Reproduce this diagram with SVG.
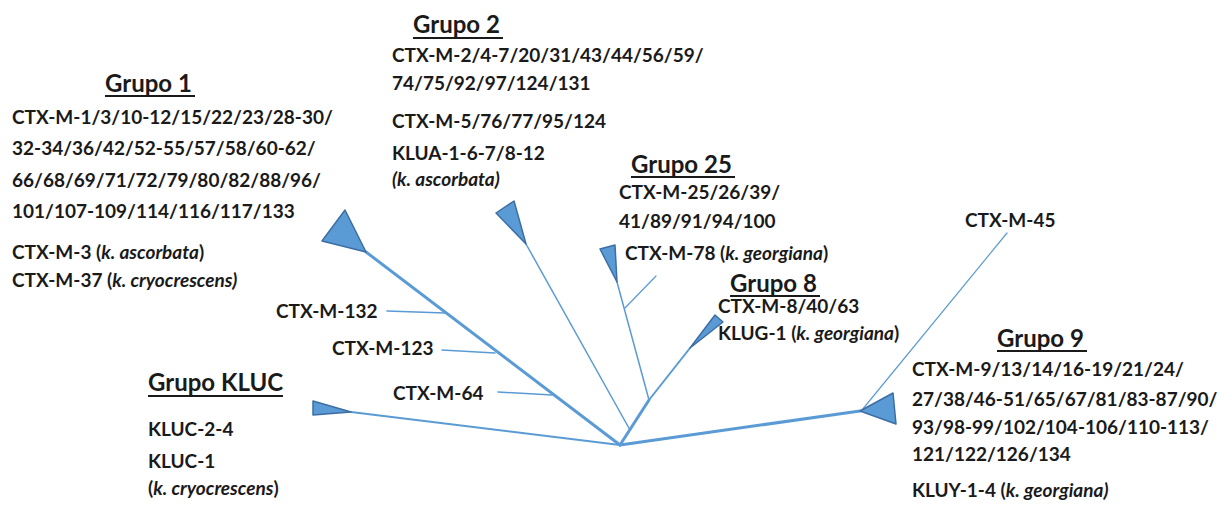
<svg xmlns="http://www.w3.org/2000/svg" width="1222" height="507" viewBox="0 0 1222 507">
<style>
text{font-family:Lato,"Open Sans","Liberation Sans",sans-serif;font-weight:bold;fill:#1a1a1a;font-size:19px}
.h{font-size:24px}
.i{font-style:italic}
.ul{stroke:#1a1a1a;stroke-width:2}
.tri{fill:#5b9bd5;stroke:#3c6ea5;stroke-width:1.5;stroke-linejoin:round}
.br{stroke:#5b9bd5;fill:none;stroke-linecap:round}
.w3{stroke-width:3}
.w2{stroke-width:2}
.w15{stroke-width:1.5}
.w12{stroke-width:1.2}
</style>
<rect width="1222" height="507" fill="#ffffff"/>
<g id="connectors">
<line class="br w3" x1="620" y1="445" x2="366" y2="252"/>
<line class="br w15" x1="387" y1="311" x2="445" y2="313"/>
<line class="br w15" x1="442" y1="350" x2="495" y2="353"/>
<line class="br w15" x1="498" y1="392" x2="552" y2="395"/>
<line class="br w2" x1="620" y1="445" x2="351" y2="412"/>
<line class="br w3" x1="620" y1="445" x2="649" y2="400"/>
<line class="br w15" x1="630" y1="430" x2="526" y2="244"/>
<line class="br w15" x1="649" y1="400" x2="617" y2="282"/>
<line class="br w12" x1="625" y1="308" x2="656" y2="276"/>
<line class="br w2" x1="649" y1="400" x2="690" y2="348"/>
<line class="br w3" x1="620" y1="445" x2="860" y2="411"/>
<line class="br w12" x1="862" y1="410" x2="1007" y2="233"/>
</g>
<g id="grupo1">
<polygon class="tri" points="345,210 322,241 366,252"/>
<text class="h" x="105" y="92">Grupo 1</text>
<line class="ul" x1="105" y1="96" x2="195" y2="96"/>
<text x="12" y="124">CTX-M-1/3/10-12/15/22/23/28-30/</text>
<text x="12" y="155">32-34/36/42/52-55/57/58/60-62/</text>
<text x="12" y="187">66/68/69/71/72/79/80/82/88/96/</text>
<text x="12" y="218">101/107-109/114/116/117/133</text>
<text x="12" y="259">CTX-M-3 (<tspan class="i">k. ascorbata</tspan>)</text>
<text x="12" y="287">CTX-M-37 (<tspan class="i">k. cryocrescens)</tspan></text>
</g>
<g id="ctxm132"><text x="276" y="318">CTX-M-132</text></g>
<g id="ctxm123"><text x="332" y="355">CTX-M-123</text></g>
<g id="ctxm64"><text x="393" y="400">CTX-M-64</text></g>
<g id="grupo2">
<polygon class="tri" points="496,213 514,201 526,244"/>
<text class="h" x="413" y="33">Grupo 2</text>
<line class="ul" x1="413" y1="38" x2="503" y2="38"/>
<text x="392" y="62">CTX-M-2/4-7/20/31/43/44/56/59/</text>
<text x="392" y="90">74/75/92/97/124/131</text>
<text x="392" y="128">CTX-M-5/76/77/95/124</text>
<text x="392" y="160">KLUA-1-6-7/8-12</text>
<text x="392" y="186" class="i">(k. ascorbata)</text>
</g>
<g id="grupo25">
<polygon class="tri" points="600,249 615,245 617,282"/>
<text class="h" x="631" y="173">Grupo 25</text>
<line class="ul" x1="631" y1="177" x2="735" y2="177"/>
<text x="619" y="199">CTX-M-25/26/39/</text>
<text x="619" y="228">41/89/91/94/100</text>
<text x="625" y="260">CTX-M-78 (<tspan class="i">k. georgiana</tspan>)</text>
</g>
<g id="grupo8">
<polygon class="tri" points="690,348 715,315 723,322"/>
<text class="h" x="730" y="292">Grupo 8</text>
<line class="ul" x1="730" y1="296" x2="820" y2="296"/>
<text x="718" y="313">CTX-M-8/40/63</text>
<text x="718" y="340">KLUG-1 (<tspan class="i">k. georgiana</tspan>)</text>
</g>
<g id="ctxm45"><text x="965" y="227">CTX-M-45</text></g>
<g id="grupo9">
<polygon class="tri" points="860,411 893,393 896,424"/>
<text class="h" x="997" y="347">Grupo 9</text>
<line class="ul" x1="997" y1="351" x2="1087" y2="351"/>
<text x="912" y="376">CTX-M-9/13/14/16-19/21/24/</text>
<text x="912" y="406">27/38/46-51/65/67/81/83-87/90/</text>
<text x="912" y="434">93/98-99/102/104-106/110-113/</text>
<text x="912" y="461">121/122/126/134</text>
<text x="912" y="497">KLUY-1-4 (<tspan class="i">k. georgiana)</tspan></text>
</g>
<g id="grupoKLUC">
<polygon class="tri" points="313,401 313,415 351,412"/>
<text class="h" x="148" y="391">Grupo KLUC</text>
<line class="ul" x1="148" y1="396" x2="283" y2="396"/>
<text x="148" y="436">KLUC-2-4</text>
<text x="148" y="468">KLUC-1</text>
<text x="148" y="495">(<tspan class="i">k. cryocrescens</tspan>)</text>
</g>
</svg>
